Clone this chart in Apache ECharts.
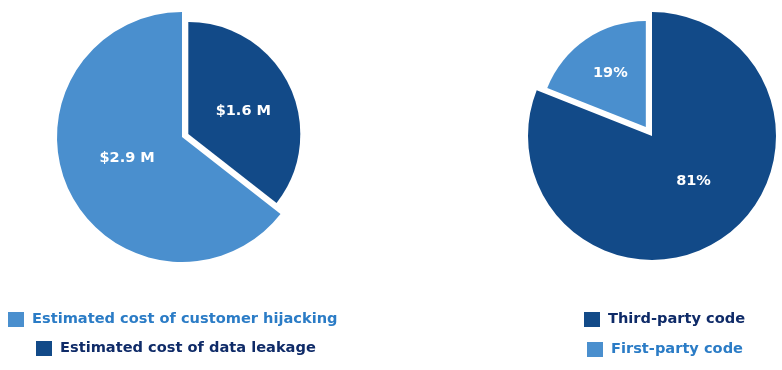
<!DOCTYPE html>
<html>
<head>
<meta charset="utf-8">
<script src="https://cdn.jsdelivr.net/npm/echarts@6/dist/echarts.min.js"></script>
<style>
html,body{margin:0;padding:0;background:#fff;}
#chart{width:782px;height:370px;}
</style>
</head>
<body>
<div id="chart"></div>
<script>
// Data
var leftNames = ['Estimated cost of data leakage', 'Estimated cost of customer hijacking'];
var leftValues = [1.6, 2.9];          // $ millions
var rightNames = ['Third-party code', 'First-party code'];
var rightValues = [81, 19];           // percent

var DARK = '#124a88';
var LIGHT = '#4a8fce';
var DARK_TEXT = '#0f2b68';
var LIGHT_TEXT = '#2b7cc6';
var FONT = 'DejaVu Sans';

var chart = echarts.init(document.getElementById('chart'), null, {renderer: 'canvas'});

function labelStyle(fmt) {
  return {show: true, position: 'inside', color: '#fff', fontFamily: FONT, fontWeight: 'bold', fontSize: 14.5, formatter: fmt};
}
var hidden = {color: 'rgba(0,0,0,0)'};

function pieBase(center, radius, offset, shift) {
  return {
    type: 'pie', center: center, radius: radius, startAngle: 90, clockwise: true,
    selectedMode: 'single', selectedOffset: offset, animation: false, silent: true,
    emphasis: {disabled: true, scale: false}, labelLine: {show: false}, avoidLabelOverlap: false,
    labelLayout: function () { return {dx: shift[0], dy: shift[1]}; }
  };
}

var leftFmt = function(p){ return '$' + p.value + ' M'; };
var rightFmt = function(p){ return p.value + '%'; };

var series = [
  // Left pie, large slice
  Object.assign(pieBase(['182', '137'], 125, 0, [4, -7]), {
    data: [
      {name: '_l0', value: leftValues[0], itemStyle: hidden, label: {show: false}},
      {name: leftNames[1], value: leftValues[1], itemStyle: {color: LIGHT}, label: labelStyle(leftFmt)}
    ]
  }),
  // Left pie, exploded slice
  Object.assign(pieBase(['182', '137'], 112, 7, [2, 3]), {
    data: [
      {name: leftNames[0], value: leftValues[0], selected: true, itemStyle: {color: DARK}, label: labelStyle(leftFmt)},
      {name: '_l1', value: leftValues[1], itemStyle: hidden, label: {show: false}}
    ]
  }),
  // Right pie, large slice
  Object.assign(pieBase(['652', '136'], 124, 0, [5, -9]), {
    data: [
      {name: rightNames[0], value: rightValues[0], itemStyle: {color: DARK}, label: labelStyle(rightFmt)},
      {name: '_r1', value: rightValues[1], itemStyle: hidden, label: {show: false}}
    ]
  }),
  // Right pie, exploded slice
  Object.assign(pieBase(['652', '136'], 106, 11, [-4, -7]), {
    data: [
      {name: '_r0', value: rightValues[0], itemStyle: hidden, label: {show: false}},
      {name: rightNames[1], value: rightValues[1], selected: true, itemStyle: {color: LIGHT}, label: labelStyle(rightFmt)}
    ]
  })
];

function legendItem(name, color, left, top) {
  return {
    show: true, left: left, top: top, orient: 'horizontal', padding: 0,
    icon: 'rect', itemWidth: 16, itemHeight: 15, selectedMode: false,
    data: [{name: name, itemStyle: {color: color}, textStyle: {color: color === LIGHT ? LIGHT_TEXT : DARK_TEXT}}],
    textStyle: {fontFamily: FONT, fontWeight: 'bold', fontSize: 14.6, padding: [0, 0, 0, 3]}
  };
}

chart.setOption({
  animation: false,
  backgroundColor: '#fff',
  legend: [
    legendItem(leftNames[1], LIGHT, 8, 312),
    legendItem(leftNames[0], DARK, 36, 341),
    legendItem(rightNames[0], DARK, 584, 312),
    legendItem(rightNames[1], LIGHT, 587, 342)
  ],
  series: series
});
</script>
</body>
</html>
